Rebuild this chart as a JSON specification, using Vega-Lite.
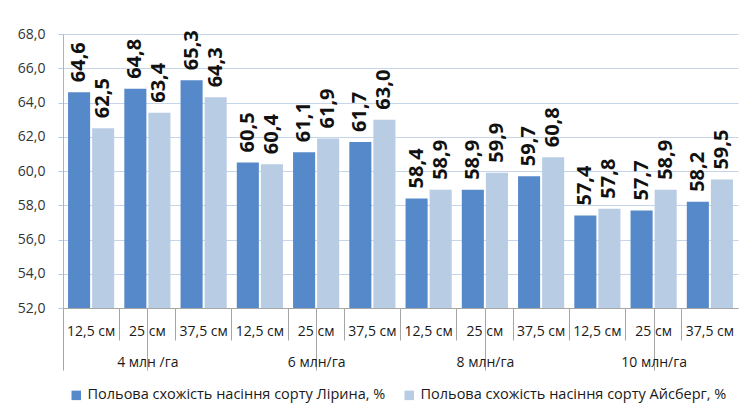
{
  "$schema": "https://vega.github.io/schema/vega-lite/v6.json",
  "width": 675,
  "height": 274,
  "autosize": "none",
  "padding": {"left": 63, "top": 34, "right": 18, "bottom": 107},
  "background": "white",
  "config": {"view": {"stroke": null}, "font": "Open Sans"},
  "data": {
    "values": [
      {"g": "4 млн /га", "s": "12,5 см", "cat": "4 млн /га|12,5 см", "series": "Польова схожість насіння сорту Лірина, %", "v": 64.6},
      {"g": "4 млн /га", "s": "12,5 см", "cat": "4 млн /га|12,5 см", "series": "Польова схожість насіння сорту Айсберг, %", "v": 62.5},
      {"g": "4 млн /га", "s": "25 см", "cat": "4 млн /га|25 см", "series": "Польова схожість насіння сорту Лірина, %", "v": 64.8},
      {"g": "4 млн /га", "s": "25 см", "cat": "4 млн /га|25 см", "series": "Польова схожість насіння сорту Айсберг, %", "v": 63.4},
      {"g": "4 млн /га", "s": "37,5 см", "cat": "4 млн /га|37,5 см", "series": "Польова схожість насіння сорту Лірина, %", "v": 65.3},
      {"g": "4 млн /га", "s": "37,5 см", "cat": "4 млн /га|37,5 см", "series": "Польова схожість насіння сорту Айсберг, %", "v": 64.3},
      {"g": "6 млн/га", "s": "12,5 см", "cat": "6 млн/га|12,5 см", "series": "Польова схожість насіння сорту Лірина, %", "v": 60.5},
      {"g": "6 млн/га", "s": "12,5 см", "cat": "6 млн/га|12,5 см", "series": "Польова схожість насіння сорту Айсберг, %", "v": 60.4},
      {"g": "6 млн/га", "s": "25 см", "cat": "6 млн/га|25 см", "series": "Польова схожість насіння сорту Лірина, %", "v": 61.1},
      {"g": "6 млн/га", "s": "25 см", "cat": "6 млн/га|25 см", "series": "Польова схожість насіння сорту Айсберг, %", "v": 61.9},
      {"g": "6 млн/га", "s": "37,5 см", "cat": "6 млн/га|37,5 см", "series": "Польова схожість насіння сорту Лірина, %", "v": 61.7},
      {"g": "6 млн/га", "s": "37,5 см", "cat": "6 млн/га|37,5 см", "series": "Польова схожість насіння сорту Айсберг, %", "v": 63.0},
      {"g": "8 млн/га", "s": "12,5 см", "cat": "8 млн/га|12,5 см", "series": "Польова схожість насіння сорту Лірина, %", "v": 58.4},
      {"g": "8 млн/га", "s": "12,5 см", "cat": "8 млн/га|12,5 см", "series": "Польова схожість насіння сорту Айсберг, %", "v": 58.9},
      {"g": "8 млн/га", "s": "25 см", "cat": "8 млн/га|25 см", "series": "Польова схожість насіння сорту Лірина, %", "v": 58.9},
      {"g": "8 млн/га", "s": "25 см", "cat": "8 млн/га|25 см", "series": "Польова схожість насіння сорту Айсберг, %", "v": 59.9},
      {"g": "8 млн/га", "s": "37,5 см", "cat": "8 млн/га|37,5 см", "series": "Польова схожість насіння сорту Лірина, %", "v": 59.7},
      {"g": "8 млн/га", "s": "37,5 см", "cat": "8 млн/га|37,5 см", "series": "Польова схожість насіння сорту Айсберг, %", "v": 60.8},
      {"g": "10 млн/га", "s": "12,5 см", "cat": "10 млн/га|12,5 см", "series": "Польова схожість насіння сорту Лірина, %", "v": 57.4},
      {"g": "10 млн/га", "s": "12,5 см", "cat": "10 млн/га|12,5 см", "series": "Польова схожість насіння сорту Айсберг, %", "v": 57.8},
      {"g": "10 млн/га", "s": "25 см", "cat": "10 млн/га|25 см", "series": "Польова схожість насіння сорту Лірина, %", "v": 57.7},
      {"g": "10 млн/га", "s": "25 см", "cat": "10 млн/га|25 см", "series": "Польова схожість насіння сорту Айсберг, %", "v": 58.9},
      {"g": "10 млн/га", "s": "37,5 см", "cat": "10 млн/га|37,5 см", "series": "Польова схожість насіння сорту Лірина, %", "v": 58.2},
      {"g": "10 млн/га", "s": "37,5 см", "cat": "10 млн/га|37,5 см", "series": "Польова схожість насіння сорту Айсберг, %", "v": 59.5}
    ]
  },
  "transform": [
    {"calculate": "replace(format(datum.v, '.1f'), '.', ',')", "as": "label"}
  ],
  "layer": [
    {
      "encoding": {
        "x": {
          "field": "cat", "type": "nominal", "sort": null,
          "scale": {"paddingInner": 0, "paddingOuter": 0},
          "axis": {
            "title": null, "orient": "bottom", "labelAngle": 0, "bandPosition": 0, "tickExtra": true,
            "labelExpr": "split(datum.value, '|')[1]",
            "tickSize": 32, "labelPadding": -16, "labelFontSize": 14, "labelFont": "Open Sans",
            "labelColor": "#1a1a1a", "domainColor": "#a6a6a6", "tickColor": "#a6a6a6", "grid": false
          }
        },
        "xOffset": {
          "field": "series", "type": "nominal", "sort": null,
          "scale": {"paddingInner": 0.083, "paddingOuter": 0.21}
        },
        "y": {
          "field": "v", "type": "quantitative",
          "scale": {"domain": [52, 68], "zero": false, "nice": false},
          "axis": {
            "title": null, "values": [52, 54, 56, 58, 60, 62, 64, 66, 68], "tickCount": 9,
            "labelExpr": "replace(format(datum.value, '.1f'), '.', ',')",
            "labelOverlap": false, "labelFont": "Open Sans",
            "labelFontSize": 14, "labelColor": "#333333", "labelPadding": 13,
            "tickSize": 5, "tickColor": "#b4c7e4", "domainColor": "#9fb6da",
            "gridColor": "#c6d5ea", "gridWidth": 1
          }
        }
      },
      "layer": [
        {
          "mark": {"type": "bar"},
          "encoding": {
            "y2": {"datum": 52},
            "color": {
              "field": "series", "type": "nominal", "sort": null,
              "scale": {"range": ["#5689c9", "#b8cce4"]},
              "legend": {
                "title": null, "orient": "none", "direction": "horizontal",
                "legendX": 6, "legendY": 354, "symbolType": "square", "symbolSize": 90,
                "symbolStrokeWidth": 0, "labelFont": "Open Sans", "labelFontSize": 14.5, "labelColor": "#1a1a1a",
                "columnPadding": 16, "labelLimit": 400
              }
            }
          }
        },
        {
          "mark": {"type": "text", "angle": 270, "align": "left", "baseline": "middle", "font": "Open Sans", "fontSize": 20, "fontWeight": "bold", "color": "#111111", "dx": 10},
          "encoding": {
            "text": {"field": "label"}
          }
        }
      ]
    },
    {
      "mark": {"type": "text", "text": ""},
      "encoding": {
        "x": {
          "field": "g", "type": "nominal", "sort": null,
          "scale": {"paddingInner": 0, "paddingOuter": 0},
          "axis": {
            "title": null, "orient": "bottom", "labelAngle": 0, "bandPosition": 0, "tickExtra": true,
            "tickSize": 62, "labelPadding": -15, "labelFontSize": 14, "labelFont": "Open Sans",
            "labelColor": "#1a1a1a", "domain": false, "tickColor": "#a6a6a6", "grid": false
          }
        }
      }
    }
  ],
  "resolve": {"scale": {"x": "independent"}, "axis": {"x": "independent"}}
}
